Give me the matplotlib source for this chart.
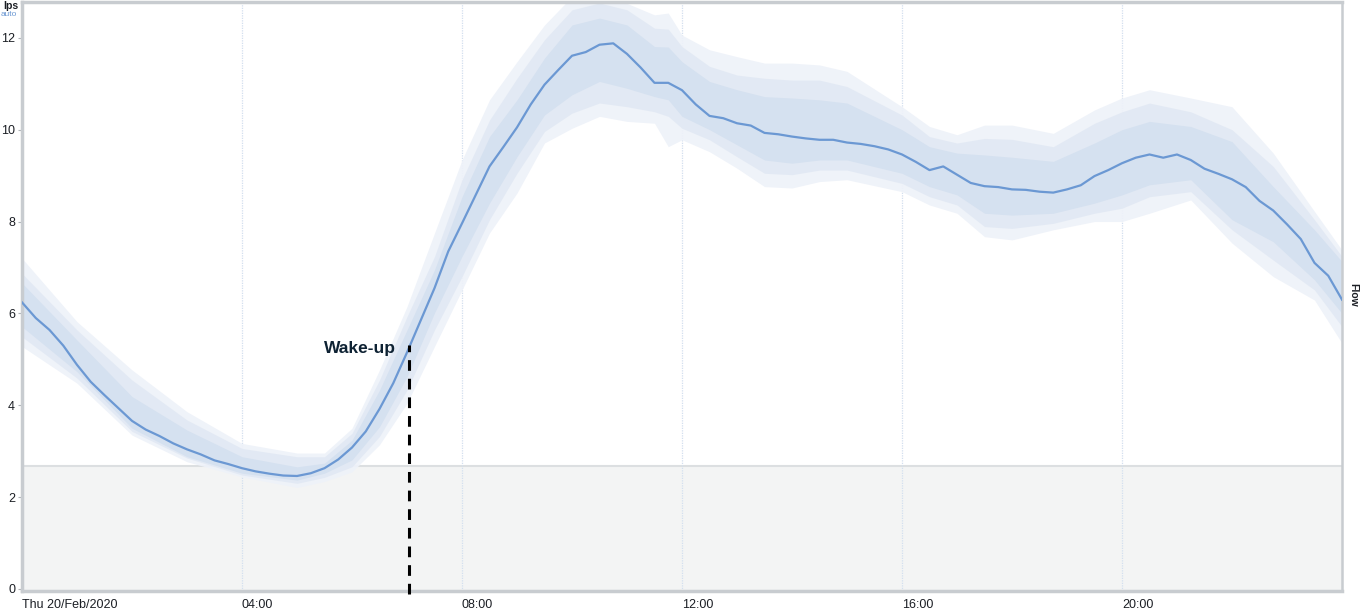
import matplotlib
matplotlib.use("Agg")
import matplotlib.pyplot as plt

plt.rcParams['font.family'] = ['Liberation Sans', 'DejaVu Sans']

# mean flow (lps), every 15 minutes, hours since midnight
hours = [i * 0.25 for i in range(97)]
flow = [6.24, 5.90, 5.64, 5.30, 4.88, 4.51, 4.22, 3.94, 3.66, 3.47, 3.33, 3.17,
        3.04, 2.93, 2.80, 2.72, 2.63, 2.56, 2.51, 2.47, 2.46, 2.52, 2.63, 2.82,
        3.08, 3.43, 3.92, 4.48, 5.15, 5.85, 6.55, 7.35, 7.96, 8.58, 9.20, 9.62,
        10.05, 10.55, 10.98, 11.30, 11.61, 11.69, 11.85, 11.88, 11.65, 11.35, 11.02, 11.02,
        10.86, 10.55, 10.30, 10.25, 10.14, 10.09, 9.93, 9.90, 9.85, 9.81, 9.78, 9.78,
        9.72, 9.69, 9.64, 9.57, 9.46, 9.30, 9.12, 9.20, 9.02, 8.84, 8.77, 8.75,
        8.70, 8.69, 8.65, 8.63, 8.70, 8.79, 8.99, 9.12, 9.27, 9.39, 9.46, 9.39,
        9.46, 9.34, 9.15, 9.04, 8.92, 8.75, 8.45, 8.24, 7.94, 7.62, 7.10, 6.82, 6.30]

# percentile bands (outer / middle / inner, upper and lower edges)
band_hours = [0, 1, 2, 3, 4, 5, 5.5, 6, 6.5, 7, 7.5, 8, 8.5, 9, 9.5, 10, 10.5, 11,
              11.5, 11.75, 12, 12.5, 13, 13.5, 14, 14.5, 15, 16, 16.5, 17, 17.5, 18,
              18.75, 19.5, 20, 20.5, 21.25, 22, 22.75, 23.5, 24]
outer_hi = [7.20, 5.82, 4.77, 3.86, 3.17, 2.96, 2.96, 3.50, 4.77, 6.15, 7.75, 9.34, 10.65, 11.48,
            12.28, 12.90, 13.00, 12.75, 12.50, 12.54, 12.06, 11.74, 11.59, 11.45, 11.45, 11.41,
            11.27, 10.50, 10.07, 9.89, 10.10, 10.10, 9.92, 10.43, 10.69, 10.87, 10.69, 10.50,
            9.49, 8.22, 7.38]
middle_hi = [6.87, 5.64, 4.55, 3.68, 3.06, 2.88, 2.88, 3.39, 4.55, 5.93, 7.24, 8.91, 10.21, 11.12,
             11.96, 12.61, 12.76, 12.61, 12.21, 12.19, 11.81, 11.38, 11.19, 11.12, 11.08, 11.08,
             10.94, 10.32, 9.85, 9.71, 9.81, 9.79, 9.63, 10.14, 10.39, 10.58, 10.39, 10.00,
             9.20, 8.04, 7.24]
inner_hi = [6.66, 5.42, 4.19, 3.46, 2.88, 2.66, 2.74, 3.24, 4.33, 5.64, 6.95, 8.54, 9.85, 10.65,
            11.56, 12.28, 12.43, 12.28, 11.81, 11.80, 11.48, 11.05, 10.87, 10.72, 10.69, 10.65,
            10.58, 10.00, 9.63, 9.49, 9.45, 9.40, 9.31, 9.71, 10.00, 10.18, 10.07, 9.74,
            8.76, 7.82, 7.13]
inner_lo = [5.71, 4.73, 3.50, 2.88, 2.52, 2.37, 2.52, 2.81, 3.53, 4.62, 6.01, 7.24, 8.40, 9.41,
            10.32, 10.76, 11.05, 10.90, 10.72, 10.65, 10.29, 10.00, 9.67, 9.34, 9.27, 9.34,
            9.34, 9.05, 8.76, 8.58, 8.18, 8.14, 8.18, 8.40, 8.58, 8.80, 8.91, 8.04,
            7.56, 6.73, 6.00]
middle_lo = [5.49, 4.59, 3.43, 2.85, 2.48, 2.30, 2.43, 2.66, 3.32, 4.33, 5.64, 6.80, 8.04, 9.05,
             9.96, 10.36, 10.58, 10.50, 10.39, 10.29, 10.03, 9.78, 9.41, 9.05, 9.02, 9.12,
             9.12, 8.83, 8.54, 8.36, 7.89, 7.85, 7.96, 8.18, 8.29, 8.54, 8.65, 7.82,
             7.16, 6.51, 5.71]
outer_lo = [5.28, 4.48, 3.35, 2.77, 2.44, 2.21, 2.34, 2.55, 3.14, 4.04, 5.28, 6.51, 7.75, 8.62,
            9.71, 10.03, 10.29, 10.18, 10.14, 9.63, 9.78, 9.52, 9.16, 8.76, 8.73, 8.87,
            8.91, 8.65, 8.36, 8.18, 7.67, 7.60, 7.82, 8.00, 8.00, 8.18, 8.47, 7.53,
            6.80, 6.29, 5.35]

tick_hours = [0, 4, 8, 12, 16, 20]
tick_labels = ['Thu 20/Feb/2020', '04:00', '08:00', '12:00', '16:00', '20:00']
y_ticks = [0, 2, 4, 6, 8, 10, 12]
threshold = 2.68
wake_hour = 7.04
wake_level = 5.31

fig = plt.figure(figsize=(13.6, 6.11), dpi=100)
ax = fig.add_axes([22 / 1360, 20 / 611, 1320 / 1360, 589 / 611])
ax.set_xlim(0, 24)
ax.set_ylim(-0.044, 12.78)

# low-flow zone
ax.axhspan(-0.1, threshold, color='#f3f4f4', zorder=0, lw=0)
ax.axhline(threshold, color='#dcdfe1', lw=1.5, zorder=0.5)

for h in tick_hours[1:]:
    ax.axvline(h, color='#d3dfef', lw=0.9, ls=(0, (1, 1)), zorder=0.6)

ax.fill_between(band_hours, outer_lo, outer_hi, color='#eef2f9', lw=0, zorder=1, alpha=0.92)
ax.fill_between(band_hours, middle_lo, middle_hi, color='#e2e9f4', lw=0, zorder=1.1, alpha=0.95)
ax.fill_between(band_hours, inner_lo, inner_hi, color='#d5e1f0', lw=0, zorder=1.2)
ax.plot(hours, flow, color='#6b98d3', lw=1.6, zorder=3)

# wake-up marker
ax.plot([wake_hour, wake_hour], [-0.1, wake_level], color='black', lw=2.2,
        ls=(0, (3.5, 2.6)), zorder=4, clip_on=False)
ax.text(6.8, 5.23, 'Wake-up', ha='right', va='center', fontsize=12.5,
        fontweight='bold', color='#0e2233', zorder=5)

ax.set_yticks(y_ticks)
ax.set_yticklabels([str(v) for v in y_ticks])
ax.set_xticks(tick_hours)
ax.set_xticklabels(tick_labels, ha='left')
ax.tick_params(axis='y', length=3, width=0.8, color='#b0b4b8', pad=2,
               labelsize=9, labelcolor='#1b1e24')
ax.tick_params(axis='x', length=0, pad=6, labelsize=9, labelcolor='#1b1e24')

for side in ['left', 'bottom', 'top']:
    ax.spines[side].set_color('#c8ccd0')
    ax.spines[side].set_linewidth(2.5)
ax.spines['right'].set_color('#c8ccd0')
ax.spines['right'].set_linewidth(1.8)

fig.text(3 / 1360, 1 - 6 / 611, 'lps', fontsize=7.5, fontweight='bold',
         color='#1b1e24', va='center', ha='left')
fig.text(1 / 1360, 1 - 15 / 611, 'auto', fontsize=6, color='#6b98d3',
         va='center', ha='left')
fig.text(1353 / 1360, 1 - 295 / 611, 'Flow', fontsize=7.5, fontweight='bold',
         color='#1b1e24', rotation=-90, va='center', ha='center')

fig.savefig('out.png', dpi=100)
